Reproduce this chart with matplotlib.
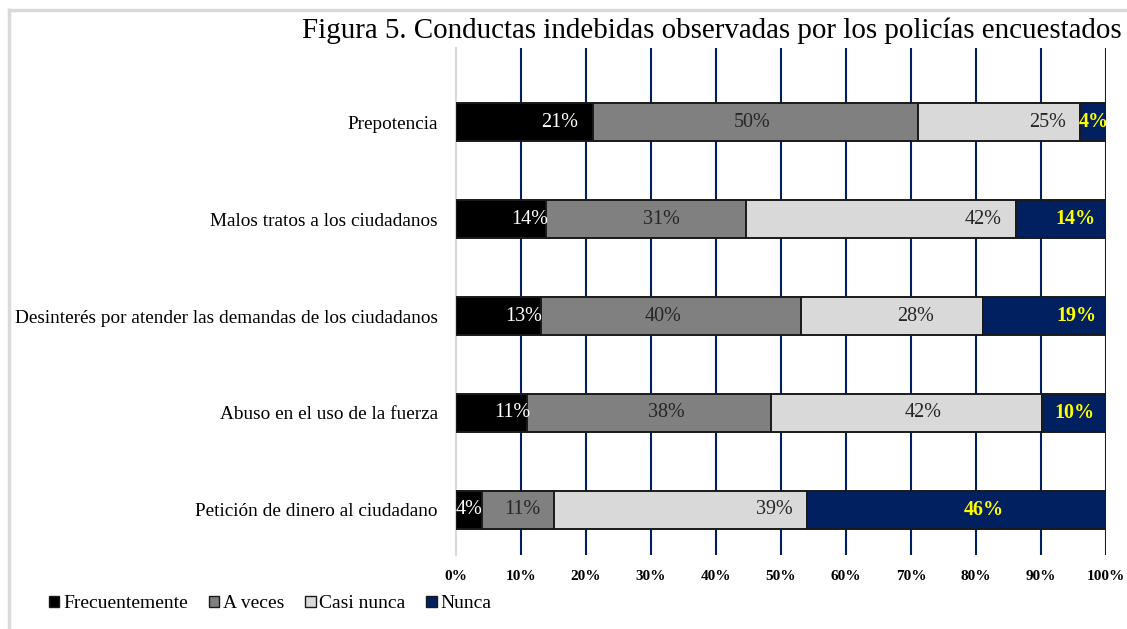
import matplotlib
matplotlib.use("Agg")
import matplotlib.pyplot as plt
from matplotlib.patches import Patch
from matplotlib.lines import Line2D
import numpy as np

plt.rcParams['font.family'] = ['Liberation Serif', 'DejaVu Serif']

categories = ["Prepotencia",
              "Malos tratos a los ciudadanos",
              "Desinterés por atender las demandas de los ciudadanos",
              "Abuso en el uso de la fuerza",
              "Petición de dinero al ciudadano"]
series_names = ["Frecuentemente", "A veces", "Casi nunca", "Nunca"]
frecuentemente = [21, 14, 13, 11, 4]
a_veces = [50, 31, 40, 38, 11]
casi_nunca = [25, 42, 28, 42, 39]
nunca = [4, 14, 19, 10, 46]
tick_values = [0, 10, 20, 30, 40, 50, 60, 70, 80, 90, 100]

# styling
colors = ["#000000", "#808080", "#d9d9d9", "#002060"]
label_colors = ["white", "#262626", "#262626", "#ffff00"]
label_weights = ["normal", "normal", "normal", "bold"]
# relative position of each value label inside its segment (0 = left, 1 = right)
label_anchor = [[0.76, 0.49, 0.80, 0.52],
                [0.82, 0.58, 0.88, 0.66],
                [0.80, 0.47, 0.63, 0.76],
                [0.79, 0.57, 0.56, 0.51],
                [0.52, 0.56, 0.87, 0.59]]

W, H = 1127, 629
fig = plt.figure(figsize=(W / 100, H / 100), dpi=100)
ax = fig.add_axes([456 / W, 1 - 555 / H, (1106 - 456) / W, (555 - 48) / H])

data = np.array([frecuentemente, a_veces, casi_nunca, nunca], dtype=float)
totals = data.sum(axis=0)
pct = data / totals * 100
y = np.arange(len(categories))
left = np.zeros(len(categories))
for s in range(4):
    ax.barh(y, pct[s], left=left, height=0.4, color=colors[s],
            edgecolor="#1a1a1a", linewidth=1.4, zorder=3)
    for i in range(len(categories)):
        xpos = left[i] + pct[s][i] * label_anchor[i][s]
        ax.text(xpos, y[i], f"{data[s][i]:.0f}%", ha="center", va="center",
                color=label_colors[s], fontsize=14.5, fontweight=label_weights[s],
                zorder=4)
    left += pct[s]

ax.set_xlim(0, 100)
ax.set_ylim(4.464, -0.763)
ax.set_yticks(y)
ax.set_yticklabels(categories, fontsize=13.9)
ax.set_xticks(tick_values)
ax.set_xticklabels([f"{v}%" for v in tick_values], fontsize=11, fontweight="bold")
ax.tick_params(axis="both", length=0)
ax.tick_params(axis="y", pad=13)
ax.tick_params(axis="x", pad=11)
for v in tick_values[1:]:
    ax.axvline(v, color="#002060", linewidth=1.5, zorder=1)
for sp in ["top", "right", "bottom"]:
    ax.spines[sp].set_visible(False)
ax.spines["left"].set_color("#d9d9d9")
ax.spines["left"].set_linewidth(1.5)

fig.text(1122 / W, 1 - 31 / H, "Figura 5. Conductas indebidas observadas por los policías encuestados",
         ha="right", va="center", fontsize=20.9)

handles = [Patch(facecolor=c, edgecolor="#1a1a1a", linewidth=1.0) for c in colors]
fig.legend(handles, series_names, loc="center left", bbox_to_anchor=(41 / W, 1 - 604 / H),
           ncol=4, frameon=False, fontsize=14, handlelength=0.55, handleheight=0.55,
           handletextpad=0.2, columnspacing=1.05, borderaxespad=0)

fig.add_artist(Line2D([9 / W, 9 / W], [0, 1 - 10 / H], color="#d9d9d9", linewidth=2.5,
                      transform=fig.transFigure))
fig.add_artist(Line2D([9 / W, 1], [1 - 10 / H, 1 - 10 / H], color="#d9d9d9", linewidth=2.5,
                      transform=fig.transFigure))

fig.savefig("out.png", dpi=100, facecolor="white")
